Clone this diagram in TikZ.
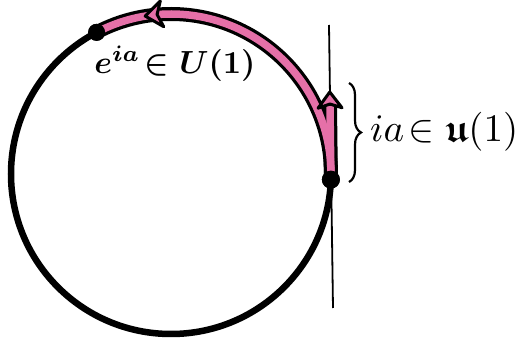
\documentclass[tikz,border=0pt]{standalone}
\usepackage{amsmath,amssymb,bm}
\usetikzlibrary{decorations.pathreplacing,calc}
\definecolor{pinkc}{RGB}{229,112,168}
\tikzset{
  dotnode/.style={circle,fill=black,inner sep=0pt,minimum size=18pt},
  outline/.style={line width=14pt,black},
  inner/.style={line width=7.5pt,pinkc},
  headstyle/.style={line width=3pt,draw=black,fill=pinkc,line join=round},
  lbl/.style={inner sep=0pt}
}
\begin{document}
\begin{tikzpicture}[x=1pt,y=1pt]
\useasboundingbox (0,0) rectangle (520,-339);
\coordinate (c) at (171,-174);
% tangent line
\coordinate (tt) at (329,-25);
\coordinate (tb) at (333,-308);
\draw[line width=1.8pt] (tt) -- (tb);
% circle
\draw[line width=6.5pt] (c) circle[radius=160pt];
% points
\node[dotnode] (p) at ($(c)+(-2:160pt)$) {};
\node[dotnode,minimum size=17pt] (q) at ($(c)+(117.7:160pt)$) {};
\coordinate (ta) at (330,-106);
% outlines
\draw[outline,line cap=round] (p.center) arc[start angle=-2,end angle=116,radius=160pt];
\draw[outline] (p.center) -- (ta);
% pink
\draw[inner] (p.center) arc[start angle=-2,end angle=116,radius=160pt];
\draw[inner] (p.center) -- (ta);
% arrowheads
\begin{scope}[shift={($(c)+(97.5:160pt)$)},rotate=187.5]
  \draw[headstyle] (5,0) -- (-12,13) -- (-7,0) -- (-12,-13) -- cycle;
\end{scope}
\begin{scope}[shift={(ta)},rotate=91]
  \draw[headstyle] (14,0) -- (-2,12) -- (2,0) -- (-2,-12) -- cycle;
\end{scope}
\node[dotnode] at (p) {};
\node[dotnode,minimum size=17pt] at (q) {};
% brace
\coordinate (b1) at (349,-83);
\coordinate (b2) at (349,-182);
\draw[line width=2.2pt,decorate,decoration={brace,amplitude=12pt}] (b1) -- (b2);
% labels
\node[lbl] (l1) at (175,-64) {\scalebox{3.2}{\boldmath$e^{ia}\!\in U(1)$}};
\node[lbl,anchor=west] (l2) at (370,-132) {\scalebox{3.9}{$ia\!\in\boldsymbol{\mathfrak{u}}(1)$}};
\end{tikzpicture}
\end{document}
